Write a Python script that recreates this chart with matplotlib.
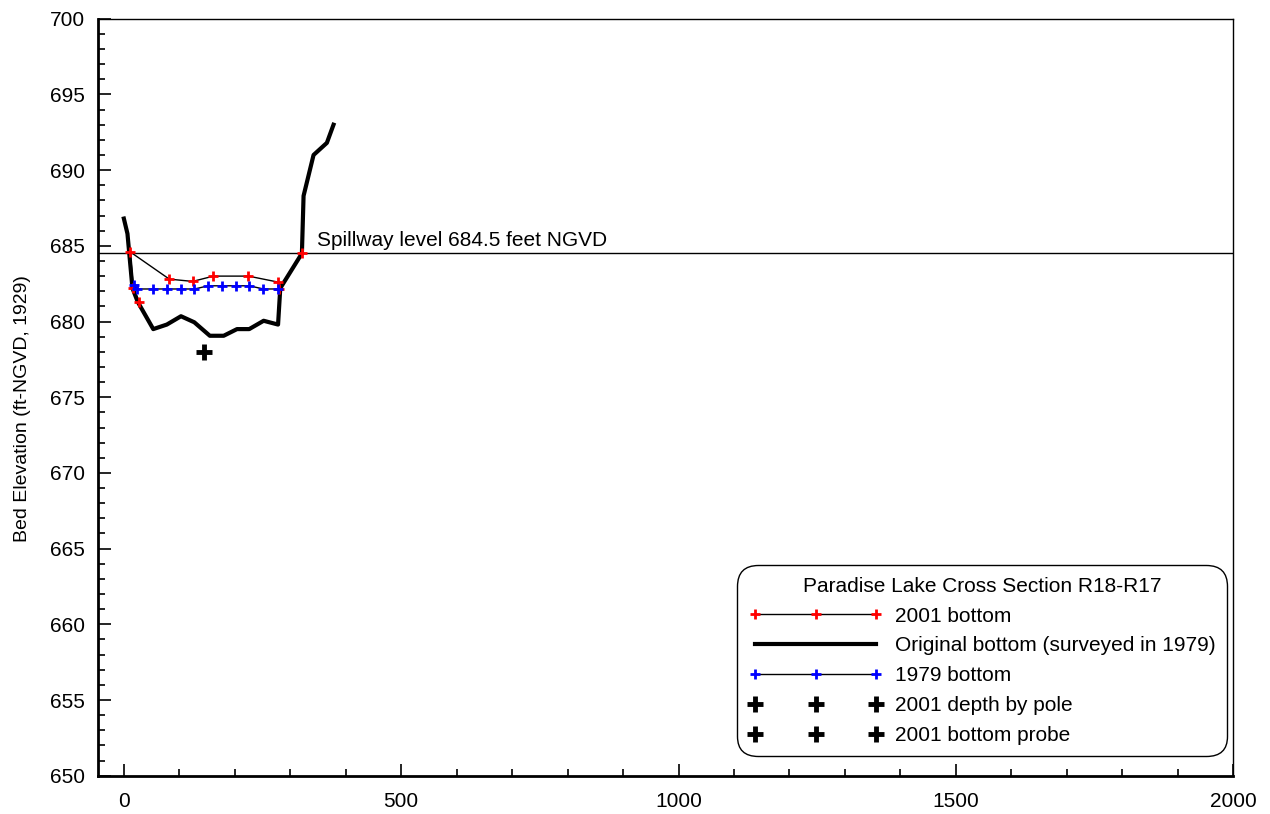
import numpy as np
import matplotlib.pyplot as plt
from matplotlib.ticker import MultipleLocator

plt.rcParams['font.family'] = ['Liberation Sans', 'DejaVu Sans']

# original bottom, surveyed in 1979
x_orig = [0, 6.5, 15.5, 25, 53, 77.5, 103, 127, 155, 180, 204, 226, 252, 278, 282, 321, 324, 342, 366, 378]
y_orig = [686.8, 685.8, 682.2, 681.3, 679.5, 679.8, 680.35, 679.95, 679.06, 679.06, 679.5, 679.5,
          680.05, 679.8, 682.2, 684.5, 688.3, 691.0, 691.8, 693.0]

# 2001 bottom
x_2001 = [27.6, 17.3, 11.4, 82, 124, 161.5, 224.6, 278.7, 280, 321.4]
y_2001 = [681.3, 682.2, 684.6, 682.8, 682.65, 683.0, 683.0, 682.6, 682.15, 684.5]

# 1979 bottom
x_1979 = [18.6, 23.4, 52, 78, 103.3, 127.3, 152.5, 176.7, 201.9, 225.9, 251.7, 277.6]
y_1979 = [682.4, 682.15, 682.15, 682.15, 682.15, 682.15, 682.36, 682.36, 682.36, 682.36, 682.15, 682.15]

# 2001 point measurements
x_pole = [145]
y_pole = [678.0]
x_probe = []
y_probe = []

spillway = 684.5

fig = plt.figure(figsize=(12.7, 8.14), dpi=100)
ax = fig.add_axes([0.077, 0.047, 0.894, 0.93])

ax.axhline(spillway, color='black', lw=1, zorder=1)
ax.text(348, spillway + 0.25, 'Spillway level 684.5 feet NGVD', fontsize=15, va='bottom', ha='left')

ax.plot(x_2001, y_2001, color='black', lw=1, marker='+', mec='red', ms=7, mew=2,
        label='2001 bottom', zorder=3)
ax.plot(x_orig, y_orig, color='black', lw=3, label='Original bottom (surveyed in 1979)', zorder=2)
ax.plot(x_1979, y_1979, color='black', lw=1, marker='+', mec='blue', ms=7, mew=2,
        label='1979 bottom', zorder=4)
ax.plot(x_pole, y_pole, ls='none', marker='+', color='black', ms=11, mew=3.5,
        label='2001 depth by pole', zorder=5)
ax.plot(x_probe, y_probe, ls='none', marker='+', color='black', ms=11, mew=3.5,
        label='2001 bottom probe', zorder=5)

ax.set_xlim(-47, 2000)
ax.set_ylim(650, 700)
ax.xaxis.set_major_locator(MultipleLocator(500))
ax.xaxis.set_minor_locator(MultipleLocator(100))
ax.yaxis.set_major_locator(MultipleLocator(5))
ax.yaxis.set_minor_locator(MultipleLocator(1))
ax.tick_params(which='both', direction='in', top=False, right=False, labelsize=15, width=1.2)
ax.tick_params(which='major', length=9)
ax.tick_params(which='minor', length=5)
ax.tick_params(axis='x', which='major', pad=12)
ax.tick_params(axis='y', which='major', pad=9)
ax.spines['left'].set_linewidth(2)
ax.spines['bottom'].set_linewidth(2)
ax.spines['top'].set_linewidth(1)
ax.spines['right'].set_linewidth(1)

ax.set_ylabel('Bed Elevation (ft-NGVD, 1929)', fontsize=14)
ax.yaxis.set_label_coords(-0.0588, 0.485)

leg = ax.legend(title='Paradise Lake Cross Section R18-R17', loc='lower right',
                bbox_to_anchor=(0.9985, 0.02), fontsize=15, title_fontsize=15,
                numpoints=3, handlelength=6.45, handletextpad=0.6, labelspacing=0.52,
                fancybox=True, framealpha=1, edgecolor='black', borderpad=0.25)
leg.get_frame().set_boxstyle('round,pad=0.3,rounding_size=1.0')
leg.get_frame().set_linewidth(1)

fig.savefig('out.png', dpi=100)
